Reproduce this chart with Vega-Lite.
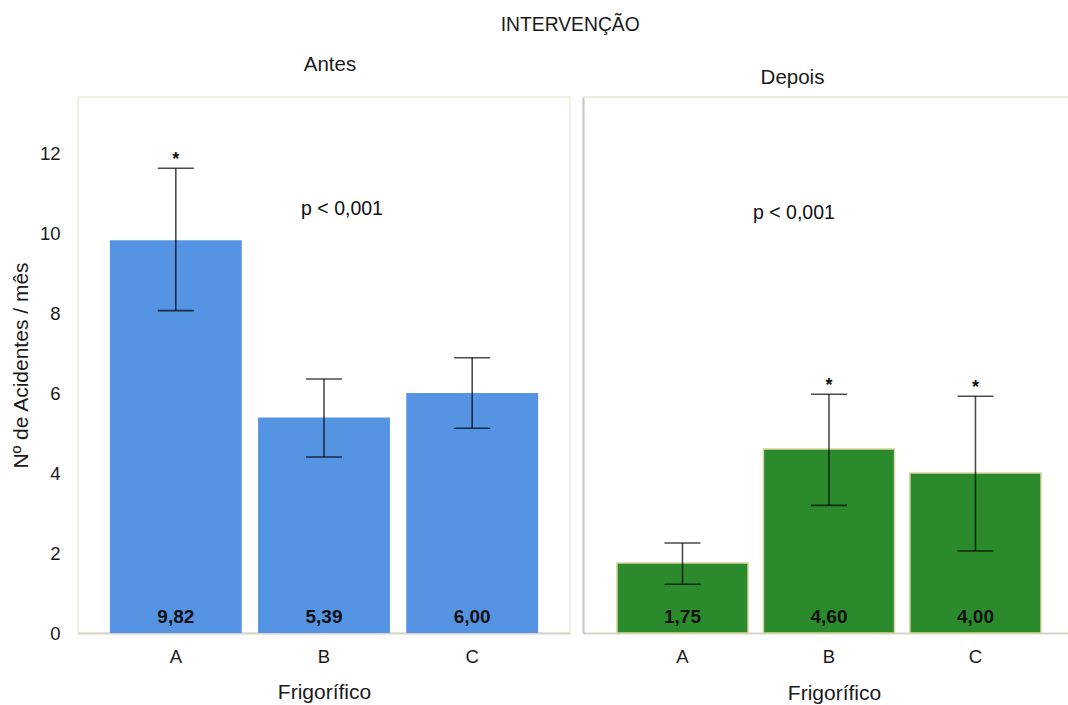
{
  "$schema": "https://vega.github.io/schema/vega-lite/v6.json",
  "background": "white",
  "padding": {"left": 9, "top": 16, "right": 0, "bottom": 0},
  "config": {
    "font": "Liberation Sans",
    "locale": {"number": {"decimal": ",", "thousands": ".", "grouping": [3], "currency": ["", " €"]}},
    "view": {"stroke": null},
    "axis": {
      "labelFont": "Liberation Sans",
      "titleFont": "Liberation Sans",
      "labelColor": "#1a1a1a",
      "titleColor": "#1a1a1a",
      "labelFontSize": 18.5,
      "titleFontSize": 18.5,
      "titleFontWeight": "normal",
      "grid": false,
      "ticks": false,
      "tickSize": 0
    },
    "title": {"font": "Liberation Sans", "fontSize": 20.5, "fontWeight": "normal", "color": "#1a1a1a"}
  },
  "title": {"text": "INTERVENÇÃO", "anchor": "middle", "offset": 18, "fontSize": 19.3, "dx": 31},
  "bounds": "flush",
  "spacing": 13,
  "datasets": {
    "medias": [
      {"periodo": "Antes", "frig": "A", "media": 9.82, "inf": 8.06, "sup": 11.62, "sig": "*"},
      {"periodo": "Antes", "frig": "B", "media": 5.39, "inf": 4.40, "sup": 6.35, "sig": ""},
      {"periodo": "Antes", "frig": "C", "media": 6.00, "inf": 5.12, "sup": 6.88, "sig": ""},
      {"periodo": "Depois", "frig": "A", "media": 1.75, "inf": 1.22, "sup": 2.25, "sig": ""},
      {"periodo": "Depois", "frig": "B", "media": 4.60, "inf": 3.19, "sup": 5.97, "sig": "*"},
      {"periodo": "Depois", "frig": "C", "media": 4.00, "inf": 2.05, "sup": 5.92, "sig": "*"}
    ],
    "notas": [
      {"periodo": "Antes", "frig": "B", "py": 10.6, "txt": "p < 0,001"},
      {"periodo": "Depois", "frig": "B", "py": 10.5, "txt": "p < 0,001"}
    ]
  },
  "hconcat": [
    {
      "width": 492,
      "height": 536,
      "title": {"text": "Antes", "offset": 22, "dx": 6},
      "view": {"stroke": "#ece8dc", "strokeWidth": 1.5},
      "data": {"name": "medias"},
      "transform": [{"filter": "datum.periodo === 'Antes'"}],
      "encoding": {
        "x": {
          "field": "frig",
          "type": "nominal",
          "scale": {"paddingInner": 0.11, "paddingOuter": 0.215},
          "axis": {"title": "Frigorífico", "titleFontSize": 21, "labelAngle": 0, "labelPadding": 14, "titlePadding": 16, "domainColor": "#d8d4c8", "domainWidth": 2}
        }
      },
      "layer": [
        {
          "mark": {"type": "bar", "color": "#5593e3"},
          "encoding": {
            "y": {
              "field": "media",
              "type": "quantitative",
              "title": "Nº de Acidentes / mês",
              "scale": {"domain": [0, 13.4], "nice": false},
              "axis": {"values": [0, 2, 4, 6, 8, 10, 12], "labelPadding": 18, "titlePadding": 8, "titleFontSize": 21, "domain": false}
            }
          }
        },
        {
          "mark": {"type": "rule", "color": "#000", "opacity": 0.7, "strokeWidth": 1.6},
          "encoding": {"y": {"field": "inf", "type": "quantitative", "title": "Nº de Acidentes / mês"}, "y2": {"field": "sup"}}
        },
        {
          "mark": {"type": "tick", "color": "#000", "opacity": 0.7, "thickness": 1.6, "size": 36},
          "encoding": {"y": {"field": "inf", "type": "quantitative", "title": "Nº de Acidentes / mês"}}
        },
        {
          "mark": {"type": "tick", "color": "#000", "opacity": 0.7, "thickness": 1.6, "size": 36},
          "encoding": {"y": {"field": "sup", "type": "quantitative", "title": "Nº de Acidentes / mês"}}
        },
        {
          "mark": {"type": "text", "fontWeight": "bold", "fontSize": 19, "baseline": "alphabetic", "dy": -10, "color": "#111"},
          "encoding": {
            "y": {"datum": 0, "type": "quantitative"},
            "text": {"field": "media", "type": "quantitative", "format": ".2f"}
          }
        },
        {
          "mark": {"type": "text", "fontWeight": "bold", "fontSize": 18, "baseline": "alphabetic", "dy": -3, "color": "#111"},
          "encoding": {"y": {"field": "sup", "type": "quantitative", "title": "Nº de Acidentes / mês"}, "text": {"field": "sig"}}
        },
        {
          "data": {"name": "notas"},
          "transform": [{"filter": "datum.periodo === 'Antes'"}],
          "mark": {"type": "text", "fontSize": 19.5, "dx": 18, "baseline": "middle", "color": "#111"},
          "encoding": {"y": {"field": "py", "type": "quantitative", "title": "Nº de Acidentes / mês"}, "text": {"field": "txt"}}
        }
      ]
    },
    {
      "width": 485,
      "height": 536,
      "title": {"text": "Depois", "offset": 8, "dx": -33},
      "data": {"name": "medias"},
      "transform": [{"filter": "datum.periodo === 'Depois'"}],
      "layer": [
        {
          "mark": {"type": "rule", "color": "#ece8dc", "strokeWidth": 1.5},
          "encoding": {"y": {"datum": 13.4, "type": "quantitative"}}
        },
        {
          "mark": {"type": "bar", "color": "#2b8a2b", "stroke": "#d9d6a2", "strokeWidth": 1.5},
          "encoding": {
            "x": {
              "field": "frig",
              "type": "nominal",
              "scale": {"paddingInner": 0.105, "paddingOuter": 0.208, "align": 0.557},
              "axis": {"title": "Frigorífico", "titleFontSize": 21, "titleX": 251, "labelAngle": 0, "labelPadding": 14, "titlePadding": 17, "domainColor": "#d8d4c8", "domainWidth": 2}
            },
            "y": {
              "field": "media",
              "type": "quantitative",
              "title": null,
              "scale": {"domain": [0, 13.4], "nice": false},
              "axis": {"labels": false, "domain": true, "domainColor": "#c6c6be", "domainWidth": 2, "title": null}
            }
          }
        },
        {
          "mark": {"type": "rule", "color": "#000", "opacity": 0.7, "strokeWidth": 1.6},
          "encoding": {"x": {"field": "frig", "type": "nominal"}, "y": {"field": "inf", "type": "quantitative", "title": null}, "y2": {"field": "sup"}}
        },
        {
          "mark": {"type": "tick", "color": "#000", "opacity": 0.7, "thickness": 1.6, "size": 36},
          "encoding": {"x": {"field": "frig", "type": "nominal"}, "y": {"field": "inf", "type": "quantitative", "title": null}}
        },
        {
          "mark": {"type": "tick", "color": "#000", "opacity": 0.7, "thickness": 1.6, "size": 36},
          "encoding": {"x": {"field": "frig", "type": "nominal"}, "y": {"field": "sup", "type": "quantitative", "title": null}}
        },
        {
          "mark": {"type": "text", "fontWeight": "bold", "fontSize": 19, "baseline": "alphabetic", "dy": -10, "color": "#111"},
          "encoding": {
            "x": {"field": "frig", "type": "nominal"},
            "y": {"datum": 0, "type": "quantitative"},
            "text": {"field": "media", "type": "quantitative", "format": ".2f"}
          }
        },
        {
          "mark": {"type": "text", "fontWeight": "bold", "fontSize": 18, "baseline": "alphabetic", "dy": -3, "color": "#111"},
          "encoding": {"x": {"field": "frig", "type": "nominal"}, "y": {"field": "sup", "type": "quantitative", "title": null}, "text": {"field": "sig"}}
        },
        {
          "data": {"name": "notas"},
          "transform": [{"filter": "datum.periodo === 'Depois'"}],
          "mark": {"type": "text", "fontSize": 19.5, "dx": -35, "baseline": "middle", "color": "#111"},
          "encoding": {"x": {"field": "frig", "type": "nominal"}, "y": {"field": "py", "type": "quantitative", "title": null}, "text": {"field": "txt"}}
        }
      ]
    }
  ]
}
